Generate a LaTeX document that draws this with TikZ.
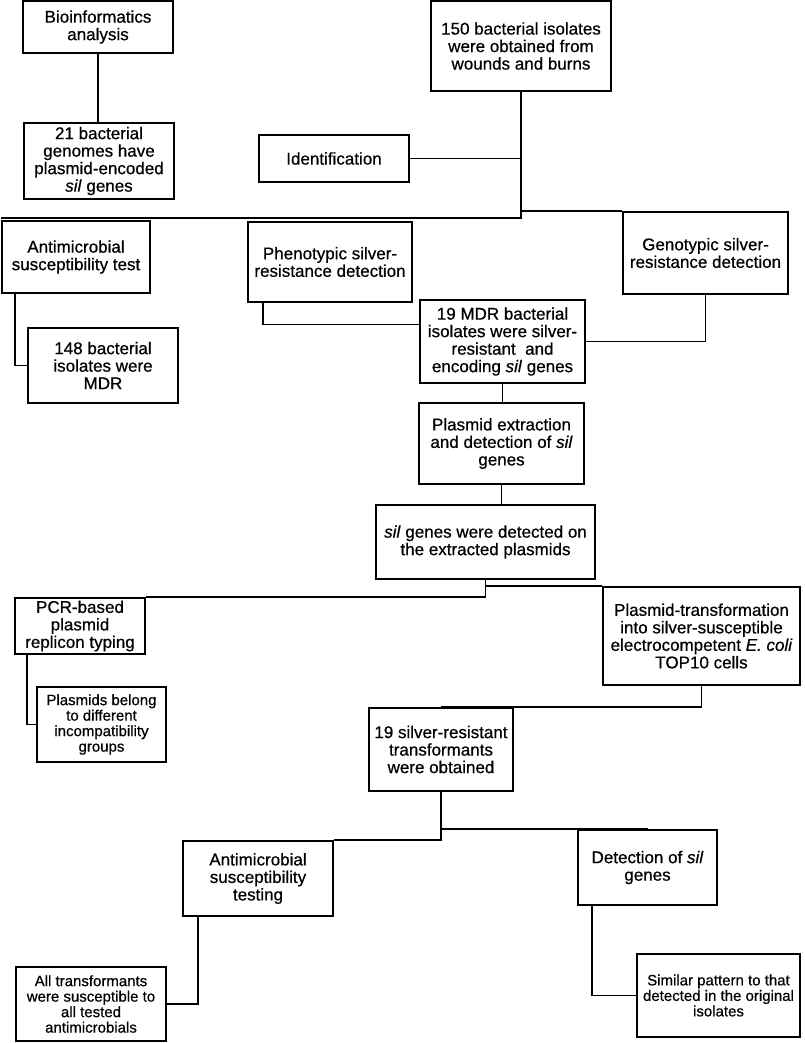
\documentclass[tikz,border=0pt]{standalone}
\usepackage{fontspec}
\setmainfont{Liberation Sans}[FakeBold=0.6]
\usepackage{tikz}

\begin{document}
\begin{tikzpicture}[x=1pt,y=1pt,
        bx/.style={draw, line width=2.4pt, align=center, inner sep=0pt,
                        font=\fontsize{17}{17.5}\selectfont},
        sbx/.style={bx, font=\fontsize{15}{15.5}\selectfont},
        ln/.style={line width=1.4pt}]
\useasboundingbox (0,0) rectangle (804,-1043);
% boxes
\node[bx, minimum width=150pt, minimum height=52pt] (bio) at (98,-27) {Bioinformatics\\analysis};
\node[bx, minimum width=150pt, minimum height=76pt] (genomes) at (99,-161) {21 bacterial\\genomes have\\plasmid-encoded\\\textit{sil} genes};
\node[bx, minimum width=150pt, minimum height=47pt] (ident) at (334,-158.5) {Identification};
\node[bx, minimum width=180pt, minimum height=90pt] (isol) at (521,-46) {150 bacterial isolates\\were obtained from\\wounds and burns};
\node[bx, minimum width=148pt, minimum height=72pt] (ast) at (76,-257) {Antimicrobial\\susceptibility test};
\node[bx, minimum width=150pt, minimum height=75pt] (mdr148) at (103,-365.5) {148 bacterial\\isolates were\\MDR};
\node[bx, minimum width=164pt, minimum height=80pt] (pheno) at (330,-262) {Phenotypic silver-\\resistance detection};
\node[bx, minimum width=165pt, minimum height=82pt] (geno) at (705.5,-253) {Genotypic silver-\\resistance detection};
\node[bx, minimum width=165pt, minimum height=83pt] (mdr19) at (502.5,-341.5) {19 MDR bacterial\\isolates were silver-\\resistant\ \ and\\encoding \textit{sil} genes};
\node[bx, minimum width=165pt, minimum height=81pt] (extract) at (501.5,-443.5) {Plasmid extraction\\and detection of \textit{sil}\\genes};
\node[bx, minimum width=219pt, minimum height=74pt] (silplas) at (485.5,-542) {\textit{sil} genes were detected on\\the extracted plasmids};
\node[bx, minimum width=130pt, minimum height=56pt] (pcr) at (80,-626) {PCR-based\\plasmid\\replicon typing};
\node[bx, minimum width=197pt, minimum height=98pt] (transf) at (701.5,-636) {Plasmid-transformation\\into silver-susceptible\\electrocompetent \textit{E. coli}\\TOP10 cells};
\node[sbx, minimum width=129pt, minimum height=75pt] (incomp) at (101.5,-724.5) {Plasmids belong\\to different\\incompatibility\\groups};
\node[bx, minimum width=144pt, minimum height=83pt] (sr19) at (441,-749.5) {19 silver-resistant\\transformants\\were obtained};
\node[bx, minimum width=150pt, minimum height=75pt] (amt) at (258,-878.5) {Antimicrobial\\susceptibility\\testing};
\node[bx, minimum width=139pt, minimum height=75pt] (detect) at (647.5,-867.5) {Detection of \textit{sil}\\genes};
\node[sbx, minimum width=150pt, minimum height=74pt] (alltr) at (91,-1004) {All transformants\\were susceptible to\\all tested\\antimicrobials};
\node[sbx, minimum width=163pt, minimum height=83pt] (similar) at (718.5,-995.5) {Similar pattern to that\\detected in the original\\isolates};
% connectors
\coordinate (hub) at (521,-218);
\draw[ln] (bio.south) -- (bio.south |- genomes.north);
\draw[ln] (ident.east) -- (ident.east -| isol.south);
\draw[ln] (isol.south) -- (hub) -- (hub -| ast.west);
\draw[ln] (isol.south) |- (geno.north west);
\draw[ln] ([xshift=14pt]ast.south west) |- (mdr148.west);
\draw[ln] ([xshift=16pt]pheno.south west) |- ([yshift=17pt]mdr19.west);
\draw[ln] (geno.south) |- (mdr19.east);
\draw[ln] (mdr19.south) -- (mdr19.south |- extract.north);
\draw[ln] (extract.south) -- (extract.south |- silplas.north);
\draw[ln] (silplas.south) |- (pcr.north east);
\draw[ln] (silplas.south) |- (transf.north west);
\draw[ln] ([xshift=13pt]pcr.south west) |- (incomp.west);
\draw[ln] (transf.south) |- (sr19.north);
\draw[ln] (sr19.south) |- (amt.north east);
\draw[ln] (sr19.south) |- (detect.north);
\draw[ln] ([xshift=16pt]amt.south west) |- (alltr.east);
\draw[ln] ([xshift=15pt]detect.south west) |- (similar.west);
\end{tikzpicture}
\end{document}
